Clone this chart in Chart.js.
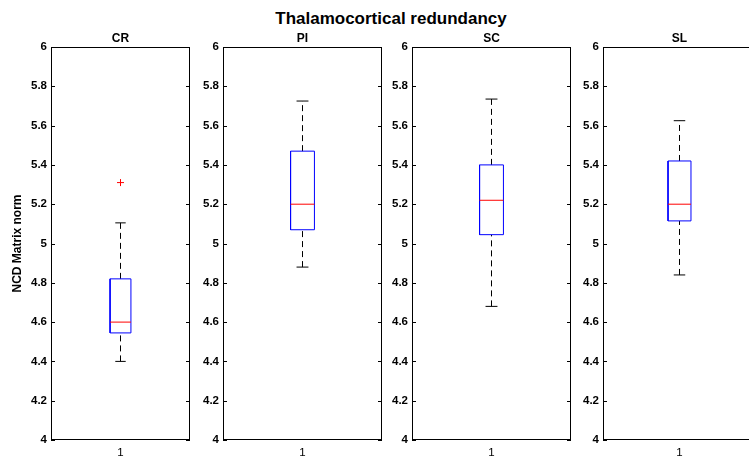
<!DOCTYPE html>
<html>
<head>
<meta charset="utf-8">
<script src="https://cdn.jsdelivr.net/npm/chart.js@4.4.1/dist/chart.umd.min.js"></script>
<style>
  html, body { margin: 0; padding: 0; width: 749px; height: 463px; overflow: hidden; background: #fff; }
  canvas { position: absolute; top: 0; }
  #title {
    position: absolute; left: 0; width: 782px; top: 10px;
    font: bold 17px "Liberation Sans", Arial, sans-serif; line-height: 17px;
    text-align: center; color: #000;
  }
</style>
</head>
<body>
<div id="title">Thalamocortical redundancy</div>
<script>
// boxplot statistics
const groups = ['CR', 'PI', 'SC', 'SL'];
const lowerWhisker = [4.40, 4.88, 4.68, 4.84];
const lowerQuartile = [4.545, 5.07, 5.045, 5.115];
const medians = [4.60, 5.20, 5.22, 5.20];
const upperQuartile = [4.82, 5.47, 5.40, 5.42];
const upperWhisker = [5.105, 5.725, 5.735, 5.625];
const outliers = [[5.31], [], [], []];

const yTickValues = [4, 4.2, 4.4, 4.6, 4.8, 5, 5.2, 5.4, 5.6, 5.8, 6];
const xTickLabels = ['1'];

// panel placement (page pixels)
const plotLeft = [51, 223, 412, 603];
const plotRight = [190, 379, 568, 753];
const plotTop = 47, plotBottom = 440, pageH = 463;

const FONT = '"Liberation Sans", Arial, sans-serif';
const boxHalf = 0.075, capHalf = 0.0375;

const frameTicks = {
    id: 'frameTicks',
    afterDraw(chart) {
        const { ctx, chartArea: a, scales: { y } } = chart;
        ctx.save();
        ctx.strokeStyle = '#000';
        ctx.lineWidth = 1;
        ctx.strokeRect(a.left + 0.5, a.top + 0.5, a.right - a.left - 1, a.bottom - a.top - 1);
        ctx.beginPath();
        yTickValues.forEach(v => {
            const py = Math.round(y.getPixelForValue(v)) + 0.5;
            ctx.moveTo(a.left, py); ctx.lineTo(a.left + 4, py);
            ctx.moveTo(a.right - 4, py); ctx.lineTo(a.right, py);
        });
        ctx.stroke();
        ctx.restore();
    }
};

groups.forEach((name, i) => {
    const axisW = i === 0 ? 51 : 45;
    const left = plotLeft[i] - axisW;
    const canvas = document.createElement('canvas');
    // chart.js keeps ~5px free on the right of the area
    canvas.width = plotRight[i] + 5 - left;
    canvas.height = pageH;
    canvas.style.left = left + 'px';
    document.body.appendChild(canvas);

    const seg = (pts, color, dash) => ({
        data: pts, showLine: true, borderColor: color, borderWidth: 1,
        borderDash: dash || [], pointRadius: 0, fill: false, tension: 0
    });

    const datasets = [
        seg([{ x: 1 - boxHalf, y: medians[i] }, { x: 1 + boxHalf, y: medians[i] }], '#ff0000'),
        seg([
            { x: 1 - boxHalf, y: lowerQuartile[i] }, { x: 1 + boxHalf, y: lowerQuartile[i] },
            { x: 1 + boxHalf, y: upperQuartile[i] }, { x: 1 - boxHalf, y: upperQuartile[i] },
            { x: 1 - boxHalf, y: lowerQuartile[i] }
        ], '#0000ff'),
        seg([{ x: 1, y: upperQuartile[i] }, { x: 1, y: upperWhisker[i] }], '#000', [6, 4]),
        seg([{ x: 1, y: lowerWhisker[i] }, { x: 1, y: lowerQuartile[i] }], '#000', [6, 4]),
        seg([{ x: 1 - capHalf, y: upperWhisker[i] }, { x: 1 + capHalf, y: upperWhisker[i] }], '#000'),
        seg([{ x: 1 - capHalf, y: lowerWhisker[i] }, { x: 1 + capHalf, y: lowerWhisker[i] }], '#000'),
        {
            data: outliers[i].map(v => ({ x: 1, y: v })),
            showLine: false, pointStyle: 'cross', pointRadius: 3.5,
            borderColor: '#ff0000', borderWidth: 1
        }
    ];

    new Chart(canvas, {
        type: 'scatter',
        data: { datasets },
        options: {
            responsive: false,
            animation: false,
            events: [],
            layout: { padding: { top: 0, right: 2, bottom: 0, left: 0 } },
            plugins: {
                legend: { display: false },
                tooltip: { enabled: false },
                title: {
                    display: true,
                    fullSize: false,   // centre over the plot area, like MATLAB
                    text: name,
                    color: '#000',
                    font: { family: FONT, size: 12, weight: 'bold', lineHeight: 1.2 },
                    padding: { top: 31.3, bottom: 1.3 }
                }
            },
            scales: {
                x: {
                    type: 'linear',
                    min: 0.5, max: 1.5,
                    grid: { display: false, drawTicks: false },
                    border: { display: false },
                    afterBuildTicks: s => { s.ticks = [{ value: 1 }]; },
                    afterFit: s => {
                        s.height = pageH - plotBottom;
                        s.paddingLeft = 0;
                        s.paddingRight = 0;
                    },
                    ticks: {
                        color: '#000', padding: 6,
                        font: { family: FONT, size: 11.5 },
                        callback: () => xTickLabels[0]
                    }
                },
                y: {
                    min: 4, max: 6,
                    grid: { display: false, drawTicks: false },
                    border: { display: false },
                    afterBuildTicks: s => { s.ticks = yTickValues.map(v => ({ value: v })); },
                    afterFit: s => { s.width = axisW; },
                    ticks: {
                        color: '#000', padding: 4,
                        font: { family: FONT, size: 11.5, weight: 'bold' },
                        callback: v => String(v)
                    },
                    title: {
                        display: i === 0,
                        text: 'NCD Matrix norm',
                        color: '#000',
                        font: { family: FONT, size: 12, weight: 'bold' },
                        padding: { top: 10, bottom: 0 }
                    }
                }
            }
        },
        plugins: [frameTicks]
    });
});
</script>
</body>
</html>
